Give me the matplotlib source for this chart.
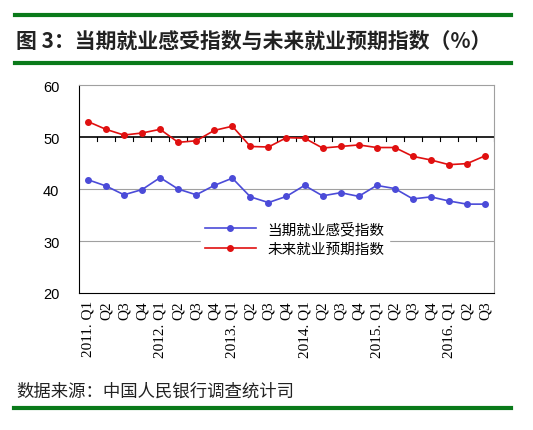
import matplotlib
matplotlib.use("Agg")
import matplotlib.pyplot as plt
from matplotlib.lines import Line2D

plt.rcParams['font.family'] = ['Noto Sans CJK SC', 'DejaVu Sans']

labels = ['2011. Q1','Q2','Q3','Q4','2012. Q1','Q2','Q3','Q4','2013. Q1','Q2','Q3','Q4',
          '2014. Q1','Q2','Q3','Q4','2015. Q1','Q2','Q3','Q4','2016. Q1','Q2','Q3']
current = [41.8,40.6,38.9,39.9,42.2,40.0,38.9,40.7,42.1,38.5,37.4,38.6,40.7,38.7,39.3,38.6,
           40.7,40.1,38.1,38.5,37.7,37.1,37.1]
future = [53.0,51.5,50.4,50.8,51.5,49.0,49.3,51.3,52.1,48.2,48.1,49.9,49.8,47.9,48.2,48.5,
          48.0,48.0,46.3,45.6,44.7,44.9,46.4]
names = ['当期就业感受指数', '未来就业预期指数']

fig = plt.figure(figsize=(5.33, 4.31), dpi=100)
ax = fig.add_axes([0.148, 0.318, 0.779, 0.482])
x = range(len(labels))
ax.set_xlim(-0.5, len(labels) - 0.5)
ax.set_ylim(20, 60)
for yv in (30, 40):
    ax.axhline(yv, color='#a0a0a0', lw=0.8, zorder=1)
ax.axhline(50, color='black', lw=1.2, zorder=2)
for i in range(len(labels)):
    ax.plot([i + 0.5, i + 0.5], [50, 49.2], color='black', lw=0.8, zorder=2)
ax.plot(x, current, color='#4b4bd8', marker='o', ms=4, lw=1.2, zorder=4)
ax.plot(x, future, color='#e01010', marker='o', ms=4, lw=1.2, zorder=4)

for s in ('top', 'right'):
    ax.spines[s].set_color('#a0a0a0')
for s in ('left', 'bottom'):
    ax.spines[s].set_color('black')
ax.set_yticks([20, 30, 40, 50, 60])
ax.set_yticklabels(['20', '30', '40', '50', '60'], family='Liberation Sans', fontsize=10.5)
ax.tick_params(axis='y', length=0, pad=14)
ax.set_xticks(list(x))
ax.set_xticklabels(labels, rotation=90, family='Liberation Serif', fontsize=11)
ax.tick_params(axis='x', length=0, pad=5)

handles = [Line2D([], [], color='#4b4bd8', marker='o', ms=4, lw=1.2),
           Line2D([], [], color='#e01010', marker='o', ms=4, lw=1.2)]
leg = ax.legend(handles, names, loc='center', bbox_to_anchor=(0.52, 0.26), frameon=True,
                fontsize=10.5, handlelength=3.5, labelspacing=0.4, borderpad=0.3)
leg.get_frame().set_edgecolor('white')
leg.get_frame().set_facecolor('white')
leg.get_frame().set_alpha(1)
leg.set_zorder(3)

green = '#0a7a1a'
for yy in (1 - 16/431, 1 - 64/431):
    fig.add_artist(Line2D([15/533, 511/533], [yy, yy], color=green, lw=3))
fig.add_artist(Line2D([14/533, 511/533], [1 - 409/431] * 2, color=green, lw=3))
fig.text(16/533, 1 - 41/431, '图 3：当期就业感受指数与未来就业预期指数（%）', fontsize=15,
         fontweight='bold', color='#222222', va='center')
fig.text(16/533, 1 - 392/431, '数据来源：中国人民银行调查统计司', fontsize=12.5,
         color='#222222', va='center')
fig.savefig('out.png', dpi=100)
